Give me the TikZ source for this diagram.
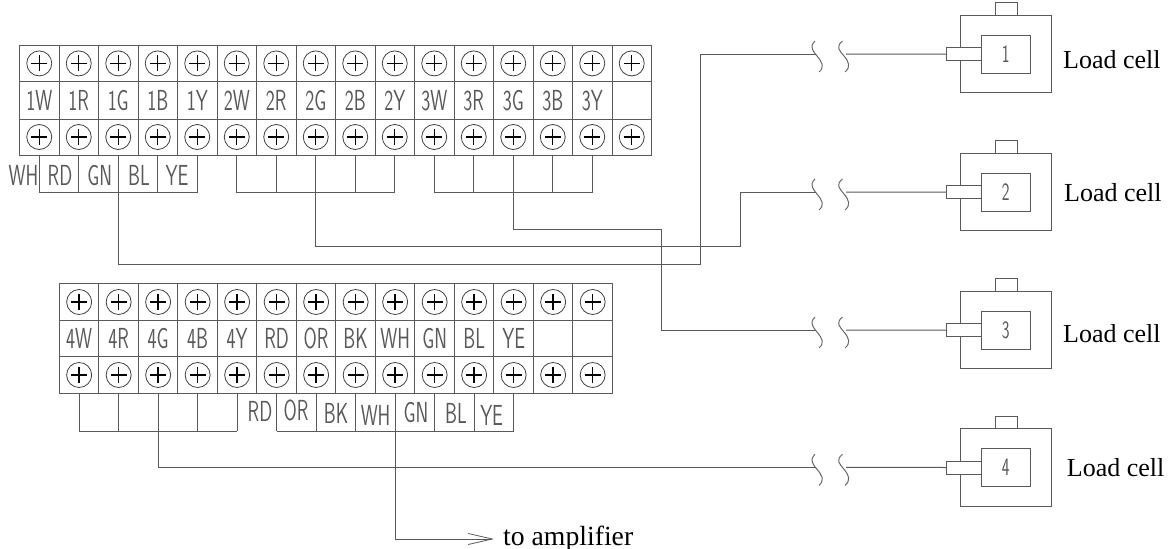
\documentclass[tikz,border=0pt]{standalone}
\usepackage{fontspec}
\usetikzlibrary{arrows.meta}
\newfontfamily\cadfont[FakeStretch=0.66]{Latin Modern Sans}
\newfontfamily\capfont{Liberation Serif}
\tikzset{
  x=1pt,y=-1pt,
  wire/.style={draw=black!65,line width=1pt},
  cellbox/.style={draw=black!65,line width=1pt,minimum width=39.5pt,inner sep=0pt,font=\cadfont\fontsize{29}{29}\selectfont,text=black!65},
  screw/.style={circle,draw=black!75,line width=.8pt,minimum size=25pt,inner sep=0pt,
    path picture={\draw[black,line width=1.4pt]
      ([xshift=-8pt]path picture bounding box.center)--([xshift=8pt]path picture bounding box.center)
      ([yshift=-8pt]path picture bounding box.center)--([yshift=8pt]path picture bounding box.center);}},
  tag/.style={inner sep=0pt,font=\cadfont\fontsize{29}{29}\selectfont,text=black!65},
  serif/.style={inner sep=0pt,anchor=base west,font=\capfont\fontsize{26}{26}\selectfont,text=black},
  part/.style={draw=black!65,line width=1pt,fill=white,inner sep=0pt},
  breakmark/.style={draw=black!60,line width=1pt},
}
\begin{document}
\begin{tikzpicture}
\useasboundingbox (0,0) rectangle (1173,549);
% ---- block 1
\foreach \c/\t in {1/1W,2/1R,3/1G,4/1B,5/1Y,6/2W,7/2R,8/2G,9/2B,10/2Y,11/3W,12/3R,13/3G,14/3B,15/3Y,16/{}}{
  \pgfmathsetmacro\xc{19.5+39.5*(\c-.5)}
  \node[cellbox,minimum height=36.7pt] (at\c) at (\xc,63.4) {};
  \node[cellbox,minimum height=37.3pt] (am\c) at (\xc,100.4) {\t};
  \node[cellbox,minimum height=36pt] (ab\c) at (\xc,137) {};
  \node[screw] at (at\c) {};
  \node[screw] at (ab\c) {};
}
% ---- block 2
\foreach \c/\t in {1/4W,2/4R,3/4G,4/4B,5/4Y,6/RD,7/OR,8/BK,9/WH,10/GN,11/BL,12/YE,13/{},14/{}}{
  \pgfmathsetmacro\xc{59.4+39.5*(\c-.5)}
  \node[cellbox,minimum height=37.4pt] (bt\c) at (\xc,302) {};
  \node[cellbox,minimum height=36pt] (bm\c) at (\xc,338.7) {\t};
  \node[cellbox,minimum height=36.6pt] (bb\c) at (\xc,375) {};
  \node[screw] at (bt\c) {};
  \node[screw] at (bb\c) {};
}
% ---- jumper buses
\foreach \c in {1,...,5} \draw[wire] (ab\c.south) -- ++(0,37.3);
\draw[wire] ([yshift=-37.3pt]ab1.south) -- ([yshift=-37.3pt]ab5.south);
\foreach \c in {6,...,10} \draw[wire] (ab\c.south) -- ++(0,37.3);
\draw[wire] ([yshift=-37.3pt]ab6.south) -- ([yshift=-37.3pt]ab10.south);
\foreach \c in {11,...,15} \draw[wire] (ab\c.south) -- ++(0,37.3);
\draw[wire] ([yshift=-37.3pt]ab11.south) -- ([yshift=-37.3pt]ab15.south);
\foreach \c in {1,...,5} \draw[wire] (bb\c.south) -- ++(0,37.4);
\draw[wire] ([yshift=-37.4pt]bb1.south) -- ([yshift=-37.4pt]bb5.south);
\foreach \c in {6,...,12} \draw[wire] (bb\c.south) -- ++(0,37.4);
\draw[wire] ([yshift=-37.4pt]bb6.south) -- ([yshift=-37.4pt]bb12.south);
% ---- bottom tags
\foreach \x/\y/\t/\n in {23.5/175.7/WH/a,60/175.7/RD/b,99.7/175.7/GN/c,139/175.7/BL/d,177/175.7/YE/e,
   260/411.7/RD/f,296/410/OR/g,336/413/BK/h,375.6/415/WH/i,416/413/GN/j,456/413/BL/k,491.6/415/YE/l}
  \node[tag] (tag\n) at (\x,\y) {\t};
% ---- load cells
\foreach \n/\o/\t/\tx/\ty in {1/0/1/1063/68,2/138/2/1064/201.7,3/276/3/1063/342.7,4/413.3/4/1066.7/476}{
  \node[part,minimum width=22pt,minimum height=12.3pt] (tab\n) at (1006,8.9+\o) {};
  \node[part,minimum width=90.7pt,minimum height=77.7pt] (cell\n) at (1006.3,53.9+\o) {};
  \node[part,minimum width=48.7pt,minimum height=38.3pt,font=\cadfont\fontsize{25}{25}\selectfont,text=black!65] (core\n) at (1005.8,54.2+\o) {\t};
  \node[part,minimum width=35pt,minimum height=13pt] (stub\n) at (964.2,54.2+\o) {};
  \node[serif] (cap\n) at (\tx,\ty) {Load cell};
  \coordinate (bl\n) at (815.5,54+\o);
  \coordinate (br\n) at (846,54+\o);
  \draw[breakmark] (815,41+\o) .. controls (809,47+\o) and (813,51+\o) .. (817,56+\o)
     .. controls (822,62+\o) and (825,67+\o) .. (819,72+\o);
  \draw[breakmark] (842.5,41+\o) .. controls (835,47+\o) and (840,51+\o) .. (844,56+\o)
     .. controls (849,62+\o) and (851,67+\o) .. (845,72+\o);
  \draw[wire] (br\n) -- (stub\n.west);
}
% ---- cables
\coordinate (c1) at (700.7,264.3);
\coordinate (c2) at (740,246.7);
\coordinate (c3) at (661.7,229);
\draw[wire] (ab3.south) |- (c1) |- (bl1);
\draw[wire] (ab8.south) |- (c2) |- (bl2);
\draw[wire] (ab13.south) |- (c3) |- (bl3);
\draw[wire] (bb3.south) |- (bl4);
\node[serif,font=\capfont\fontsize{27.7}{28}\selectfont] (amp) at (503,545) {to amplifier};
\coordinate (amptip) at (494,539);
\draw[wire,-{Straight Barb[length=24pt,width=11pt,line width=.8pt]}] (bb9.south) |- (amptip);
\end{tikzpicture}
\end{document}
